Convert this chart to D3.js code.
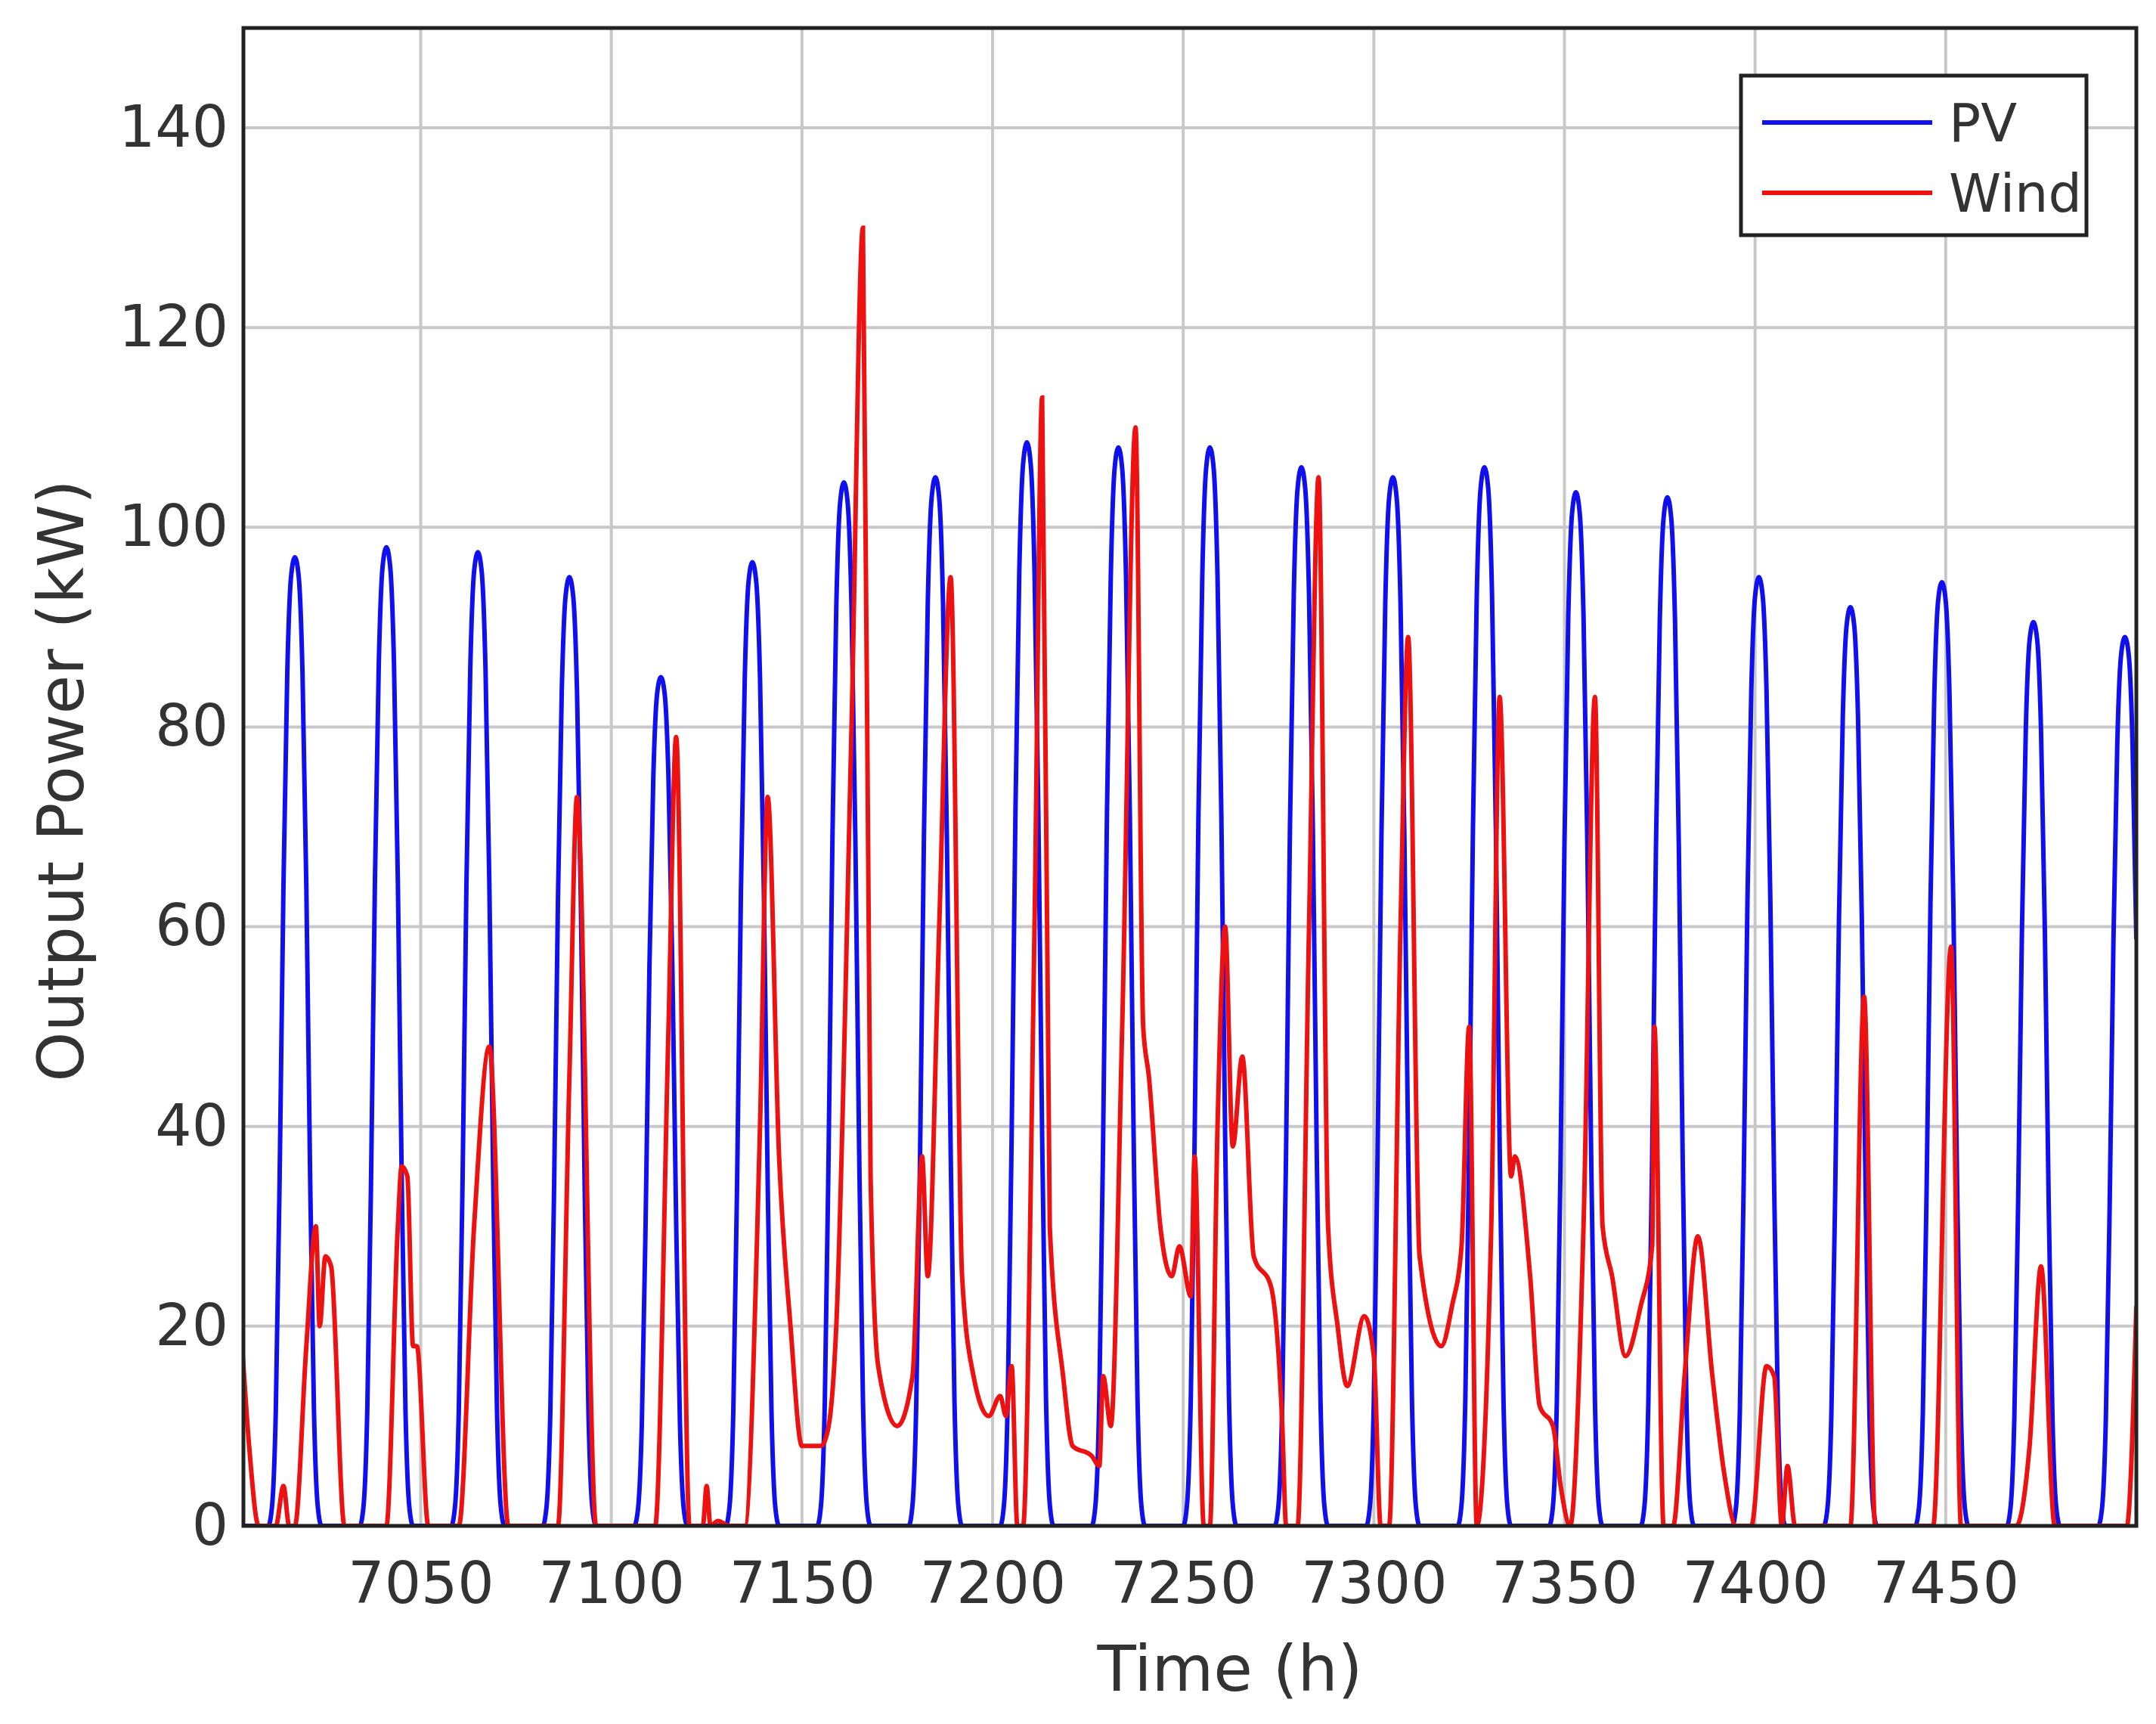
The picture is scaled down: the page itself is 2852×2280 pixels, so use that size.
<!DOCTYPE html>
<html>
<head>
<meta charset="utf-8">
<script src="https://cdn.jsdelivr.net/npm/d3@7"></script>
<style>
body{margin:0;background:#fff;}
text{font-family:"DejaVu Sans",Verdana,sans-serif;fill:#333;}
</style>
</head>
<body>
<svg id="svg" width="2852" height="2280"></svg>
<script>
// PV: daily peak hour and peak value, plus hourly shape around the peak
var pvPeakHours=[7017,7041,7065,7089,7113,7137,7161,7185,7209,7233,7257,7281,7305,7329,7353,7377,7401,7425,7449,7473,7497];
var pvPeaks=[97,98,97.5,95,85,96.5,104.5,105,108.5,108,108,106,105,106,103.5,103,95,92,94.5,90.5,89];
var pvShapeOffsets=[-7,-6,-5,-4,-3,-2,-1,0,1,2,3,4,5,6,7];
var pvShape=[0,0.02,0.12,0.36,0.66,0.88,0.98,1,0.98,0.88,0.66,0.36,0.12,0.02,0];

// Wind: [hour, kW] points
var wind=[[7003,19],[7005,8],[7007.5,0],[7012,0],[7014,4],[7015.5,0],[7017,0],[7020,18],[7022.5,30],[7023.5,20],[7025,27],[7026.5,26],[7030,0],
[7041,0],[7044,30],[7045,36],[7046.5,35],[7048,18],[7049,18],[7052,0],[7060,0],[7064,30],[7068,48],[7073,0],
[7086,0],[7089,45],[7091,73],[7096,0],[7111.5,0],[7115,50],[7117,79],[7120.5,0],[7124,0],[7125,4],[7126,0],[7128,0.5],[7131,0],
[7135,0],[7139,40],[7141,73],[7144,37],[7147,20],[7150,8],[7155,8],[7157,10],[7159,20],[7163,80],[7166,130],[7168,35],[7170,16],
[7175,10],[7179,15],[7181.5,37],[7183,25],[7186,60],[7189,95],[7192,25],[7195,15],[7199,11],[7202,13],[7203.5,11],[7205,16],[7206.5,0],
[7208,0],[7211,60],[7213,113],[7215,30],[7218.5,15],[7221,8],[7226,7],[7228,6],[7229,15],[7231,10],[7234,50],[7237.5,110],[7239.5,50],
[7241,45],[7244,30],[7247,25],[7249,28],[7252,23],[7253,37],[7255.4,0],[7257,0],[7259,40],[7261,60],[7263,38],[7265.5,47],[7268.5,27],
[7273,24],[7276,10],[7277,0],[7280,0],[7283,60],[7285.5,105],[7288,30],[7290.5,20],[7293,14],[7297.5,21],[7300,17],[7301.8,0],[7304,0],
[7307,60],[7309,89],[7312,27],[7317.7,18],[7320.5,22],[7323,28],[7325,50],[7327,0],[7330.8,30],[7333,83],[7336,35],[7337,37],
[7341,25],[7343.5,12],[7347,10],[7349,4],[7351.5,0],[7355,30],[7358,83],[7360,30],[7362.5,25],[7366,17],[7370,22],[7373,28],[7373.6,50],
[7376,0],[7378.5,0],[7381.5,15],[7385,29],[7388.8,15],[7392,5],[7395,0],[7399,0],[7403,16],[7405,15],[7407,0],[7408.5,6],[7410.5,0],
[7425,0],[7428.6,53],[7431.5,0],[7446.7,0],[7451.4,58],[7454,0],[7468.5,0],[7472,8],[7475,26],[7478.6,0],[7497.5,0],[7500,22]];

var xTicks=[7050,7100,7150,7200,7250,7300,7350,7400,7450];
var yTicks=[0,20,40,60,80,100,120,140];

function init(){
    var svg=d3.select("#svg");
    var L=322,R=2826,T=37,B=2018;
    var x=d3.scaleLinear().domain([7003.5,7500]).range([L,R]);
    var y=d3.scaleLinear().domain([0,150]).range([B,T]);

    // build PV hourly series from peaks and shape
    var pv=[[7003.5,0]];
    pvPeakHours.forEach(function(h,i){
        pvShapeOffsets.forEach(function(o,j){
            var t=h+o;
            if(t>=7003.5&&t<=7500) pv.push([t,pvPeaks[i]*pvShape[j]]);
        });
    });
    pv.push([7500,pvPeaks[pvPeaks.length-1]*pvShape[10]]);

    var grid=svg.append("g");
    grid.selectAll(".gx").data(xTicks).enter().append("line")
    .attr("x1",function(d){return x(d)}).attr("x2",function(d){return x(d)})
    .attr("y1",T).attr("y2",B).attr("stroke","#c8c8c8").attr("stroke-width",4);
    grid.selectAll(".gy").data(yTicks).enter().append("line")
    .attr("y1",function(d){return y(d)}).attr("y2",function(d){return y(d)})
    .attr("x1",L).attr("x2",R).attr("stroke","#c8c8c8").attr("stroke-width",4);

    svg.append("clipPath").attr("id","clip").append("rect")
    .attr("x",L).attr("y",T).attr("width",R-L).attr("height",B-T);

    var line=d3.line().x(function(d){return x(d[0])}).y(function(d){return y(d[1])}).curve(d3.curveMonotoneX);
    svg.append("path").datum(pv).attr("d",line).attr("fill","none")
    .attr("stroke","#1010ee").attr("stroke-width",6).attr("clip-path","url(#clip)");
    svg.append("path").datum(wind).attr("d",line).attr("fill","none")
    .attr("stroke","#ee1111").attr("stroke-width",6).attr("clip-path","url(#clip)");

    svg.append("rect").attr("x",L).attr("y",T).attr("width",R-L).attr("height",B-T)
    .attr("fill","none").attr("stroke","#222").attr("stroke-width",5);

    var xa=svg.append("g").attr("transform","translate(0,"+B+")")
    .call(d3.axisBottom(x).tickValues(xTicks).tickSize(0).tickPadding(48).tickFormat(d3.format("d")));
    xa.select(".domain").remove();
    xa.selectAll("text").attr("font-size",76).style("fill","#333");
    var ya=svg.append("g").attr("transform","translate("+L+",0)")
    .call(d3.axisLeft(y).tickValues(yTicks).tickSize(0).tickPadding(20));
    ya.select(".domain").remove();
    ya.selectAll("text").attr("font-size",76).style("fill","#333");

    svg.append("text").attr("x",1627).attr("y",2236).attr("text-anchor","middle")
    .attr("font-size",84).text("Time (h)");
    svg.append("text").attr("transform","translate(110,"+((T+B)/2+5)+") rotate(-90)")
    .attr("text-anchor","middle").attr("font-size",84).text("Output Power (kW)");

    var lg=svg.append("g");
    lg.append("rect").attr("x",2303).attr("y",100).attr("width",457).attr("height",211)
    .attr("fill","#fff").attr("stroke","#222").attr("stroke-width",5);
    var items=[["PV","#1010ee",162],["Wind","#ee1111",255]];
    items.forEach(function(it){
        lg.append("line").attr("x1",2331).attr("x2",2556).attr("y1",it[2]).attr("y2",it[2])
        .attr("stroke",it[1]).attr("stroke-width",6);
        lg.append("text").attr("x",2578).attr("y",it[2]).attr("dy","0.36em")
        .attr("font-size",70).text(it[0]);
    });
}
init();
</script>
</body>
</html>
